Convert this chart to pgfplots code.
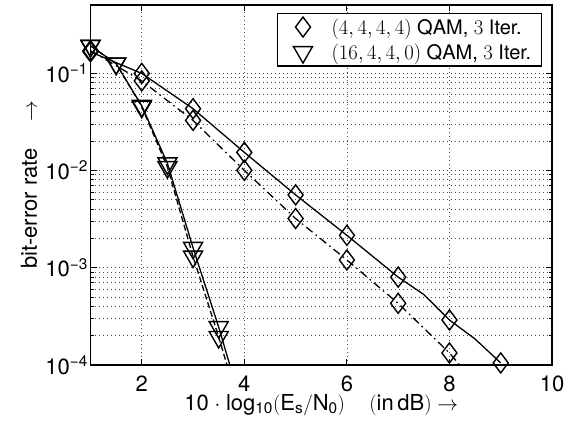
\documentclass[border=0pt]{standalone}
\usepackage{fontspec}
\setmainfont{TeX Gyre Heros}
\usepackage{pgfplots}
\pgfplotsset{compat=1.18}
\newcommand{\tickfnt}{\fontsize{22pt}{25pt}\selectfont}
\newcommand{\labfnt}{\fontsize{22pt}{25pt}\selectfont}
\newcommand{\legfnt}{\fontsize{20pt}{23pt}\selectfont}
\begin{document}
\begin{tikzpicture}
\begin{semilogyaxis}[
  scale only axis, width=461.5pt, height=360pt,
  xmin=1, xmax=10, ymin=1e-4, ymax=0.5,
  xtick={2,4,6,8,10},
  xticklabels={2,4,6,8,10},
  ytick={1e-4,1e-3,1e-2,1e-1},
  yticklabels={10\textsuperscript{−4},10\textsuperscript{−3},10\textsuperscript{−2},10\textsuperscript{−1}},
  tick label style={font=\tickfnt},
  xticklabel style={anchor=base, yshift=-26pt},
  yticklabel style={xshift=1pt},
  tick align=inside,
  major tick length=6pt, minor tick length=3pt,
  axis line style={line width=1.2pt},
  every tick/.style={black, line width=0.8pt},
  grid=both, minor x tick num=0,
  xminorgrids=false,
  major grid style={black!70, line width=0.7pt, dash pattern=on 0.7pt off 3.3pt},
  minor grid style={black!70, line width=0.7pt, dash pattern=on 0.7pt off 3.3pt},
  xlabel={10$\;\cdot\;$log\textsubscript{10}$($E\textsubscript{s}$/$N\textsubscript{0}$)$\hspace{1.1em}$($in\,dB$)\rightarrow$},
  ylabel={bit-error rate\hspace{1.2em}$\rightarrow$},
  every axis x label/.style={at={(axis description cs:0.5,-0.125)}, anchor=base, inner sep=0pt, font=\labfnt},
  every axis y label/.style={at={(axis description cs:-0.115,0.5)}, anchor=south, rotate=90, inner sep=0pt, font=\labfnt},
  legend style={at={(axis description cs:0.978,0.978)}, anchor=north east, font=\legfnt, draw=black, line width=1.2pt, fill=white, inner xsep=8pt, inner ysep=3pt, row sep=4pt, legend cell align=left, nodes={inner sep=2pt}},
  legend image code/.code={\path (0pt,0pt) (43pt,0pt); \draw[#1, mark repeat=2, mark phase=2] plot coordinates {(5pt,0pt) (17pt,0pt) (29pt,0pt)};},
  legend image post style={line width=1.3pt},
]
\coordinate (bl) at (rel axis cs:0,0);
\coordinate (tr) at (rel axis cs:1,1);
% lines
\addplot[black, line width=1.3pt, forget plot] coordinates {(1,0.165) (2,0.099) (3,0.043) (4,0.0153) (5,0.0056) (6,0.00215) (7,0.0008) (7.5,0.00053) (8,0.00029) (8.5,0.000185) (9,0.000105)};
\addplot[black, line width=1.3pt, dash pattern=on 8pt off 4pt on 1.5pt off 4pt, forget plot] coordinates {(1,0.17) (2,0.083) (3,0.0326) (4,0.0100) (5,0.0032) (6,0.0012) (7,0.00043) (8,0.000133) (8.5,0.000065)};
\addplot[black, line width=1.3pt, forget plot] coordinates {(1,0.19) (1.5,0.125) (2,0.046) (2.5,0.0118) (3,0.0016) (3.5,0.000245) (4,0.000031)};
\addplot[black, line width=1.3pt, dash pattern=on 6pt off 3pt, forget plot] coordinates {(1,0.19) (1.5,0.125) (2,0.045) (2.5,0.0108) (3,0.0013) (3.5,0.000194) (4,0.000025)};
% markers
\addplot[only marks, mark=diamond, mark size=10pt, mark options={line width=1.4pt, black}] coordinates {(1,0.165) (2,0.099) (3,0.043) (4,0.0153) (5,0.0056) (6,0.00215) (7,0.0008) (8,0.00029) (9,0.000105)};
\addlegendentry{$(4,4,4,4)$ QAM, $3$ Iter.}
\addplot[only marks, mark=diamond, mark size=10pt, mark options={line width=1.4pt, black}, forget plot] coordinates {(1,0.17) (2,0.083) (3,0.0326) (4,0.0100) (5,0.0032) (6,0.0012) (7,0.00043) (8,0.000133)};
\addplot[only marks, mark=triangle, mark size=11pt, mark options={line width=1.4pt, black, rotate=180}] coordinates {(1,0.19) (1.5,0.125) (2,0.046) (2.5,0.0118) (3,0.0016) (3.5,0.000245)};
\addlegendentry{$(16,4,4,0)$ QAM, $3$ Iter.}
\addplot[only marks, mark=triangle, mark size=11pt, mark options={line width=1.4pt, black, rotate=180}, forget plot] coordinates {(1,0.19) (1.5,0.125) (2,0.045) (2.5,0.0108) (3,0.0013) (3.5,0.000194)};
\end{semilogyaxis}
\path (bl) ++(-90.5pt,-56pt) coordinate (BB1) (tr) ++(19pt,5pt) coordinate (BB2);
\path[use as bounding box] (BB1) rectangle (BB2);
\end{tikzpicture}
\end{document}
